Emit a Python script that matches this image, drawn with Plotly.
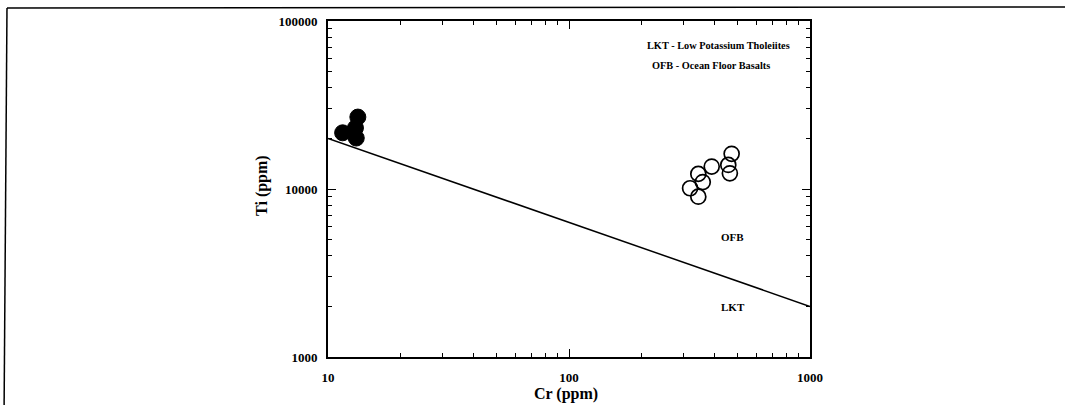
import plotly.graph_objects as go

# Data
lkt_cr = [11.5, 13.3, 13.0, 13.1]
lkt_ti = [21600, 26800, 23100, 20100]

ofb_cr = [473, 458, 465, 391, 344, 359, 318, 344]
ofb_ti = [16200, 13900, 12400, 13600, 12300, 11000, 10100, 9000]

line_cr = [10, 1000]
line_ti = [20000, 2000]

x_tickvals = [10, 100, 1000]
x_ticktext = ["10", "100", "1000"]
y_tickvals = [1000, 10000, 100000]
y_ticktext = ["1000", "10000", "100000"]

FONT = "Liberation Serif"

fig = go.Figure()
fig.add_trace(go.Scatter(x=line_cr, y=line_ti, mode="lines",
                         line=dict(color="black", width=1.5), showlegend=False))
fig.add_trace(go.Scatter(x=lkt_cr, y=lkt_ti, mode="markers",
                         marker=dict(size=16, color="black", line=dict(color="black", width=1)),
                         showlegend=False))
fig.add_trace(go.Scatter(x=ofb_cr, y=ofb_ti, mode="markers",
                         marker=dict(size=15, color="rgba(0,0,0,0)", line=dict(color="black", width=1.7)),
                         showlegend=False))

axis_common = dict(
    type="log", showgrid=False, zeroline=False, showline=True,
    linecolor="black", linewidth=1.8, mirror="ticks",
    ticks="inside", ticklen=8, tickcolor="black", tickwidth=1.2,
    minor=dict(ticks="inside", ticklen=4, dtick="D1", tickcolor="black", showgrid=False),
    tickfont=dict(family=FONT, size=13, color="black"),
)

fig.update_xaxes(range=[1, 3], tickvals=x_tickvals,
                 ticktext=["<b>%s</b>" % t for t in x_ticktext],
                 ticklabelstandoff=7,
                 **axis_common)
fig.update_yaxes(range=[3, 5], tickvals=y_tickvals,
                 ticktext=["<b>%s</b>" % t for t in y_ticktext],
                 ticklabelstandoff=6,
                 **axis_common)

# axis titles
fig.add_annotation(xref="paper", yref="paper", x=0.493, y=-0.111, text="<b>Cr (ppm)</b>",
                   showarrow=False, xanchor="center", yanchor="middle",
                   font=dict(family=FONT, size=16, color="black"))
fig.add_annotation(xref="paper", yref="paper", x=-0.137, y=0.512, text="<b>Ti (ppm)</b>",
                   showarrow=False, xanchor="center", yanchor="middle", textangle=-90,
                   font=dict(family=FONT, size=16, color="black"))

annots = [
    dict(x=0.658, y=0.928, text="<b>LKT - Low Potassium Tholeiites</b>", size=10.3),
    dict(x=0.668, y=0.868, text="<b>OFB - Ocean Floor Basalts</b>", size=10.3),
]
for a in annots:
    fig.add_annotation(xref="x domain", yref="y domain", x=a["x"], y=a["y"],
                       text=a["text"], showarrow=False, xanchor="left", yanchor="middle",
                       font=dict(family=FONT, size=a["size"], color="black"))

fig.add_annotation(x=2.68, y=3.714, xref="x", yref="y", text="<b>OFB</b>", showarrow=False,
                   font=dict(family=FONT, size=11, color="black"))
fig.add_annotation(x=2.68, y=3.298, xref="x", yref="y", text="<b>LKT</b>", showarrow=False,
                   font=dict(family=FONT, size=11, color="black"))

# scanned page frame
fig.add_shape(type="line", xref="paper", yref="paper", x0=-0.666, x1=1.53, y0=1.039, y1=1.042,
              line=dict(color="black", width=1.5))
fig.add_shape(type="line", xref="paper", yref="paper", x0=-0.666, x1=-0.672, y0=1.039, y1=-0.15,
              line=dict(color="black", width=1.5))

fig.update_layout(
    width=1065, height=405,
    margin=dict(l=328, r=255, t=21, b=48),
    plot_bgcolor="white", paper_bgcolor="white",
    font=dict(family=FONT, color="black"),
)

fig.write_html("out.html")
